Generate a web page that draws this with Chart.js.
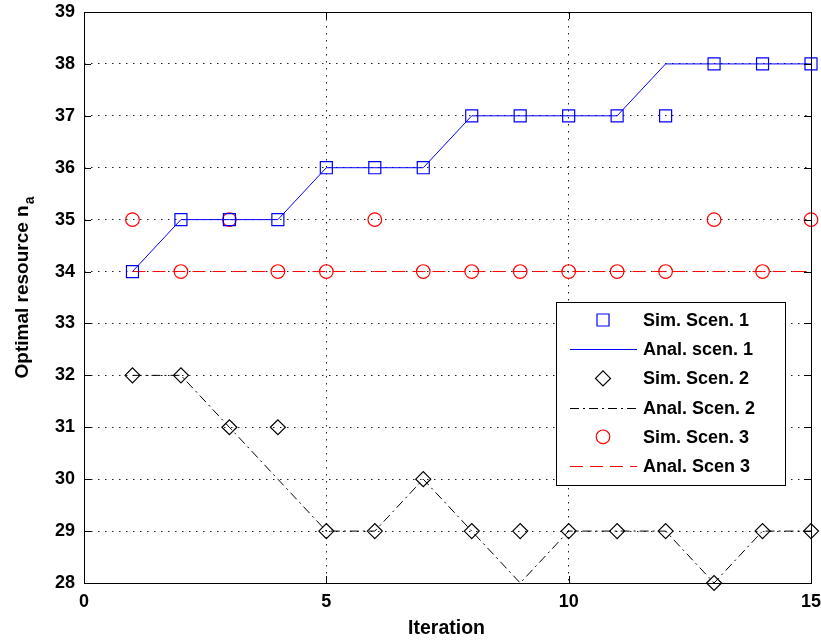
<!DOCTYPE html>
<html>
<head>
<meta charset="utf-8">
<script src="https://cdn.jsdelivr.net/npm/chart.js@4.4.1/dist/chart.umd.min.js"></script>
<style>
  html, body { margin: 0; background: #fff; }
  #wrap { width: 821px; height: 641px; }
</style>
</head>
<body>
<div id="wrap"><canvas id="myChart"></canvas></div>
<script>
// * data
const iterations = [1, 2, 3, 4, 5, 6, 7, 8, 9, 10, 11, 12, 13, 14, 15];
const simScen1  = [34, 35, 35, 35, 36, 36, 36, 37, 37, 37, 37, 37, 38, 38, 38];
const analScen1 = [34, 35, 35, 35, 36, 36, 36, 37, 37, 37, 37, 38, 38, 38, 38];
const simScen2  = [32, 32, 31, 31, 29, 29, 30, 29, 29, 29, 29, 29, 28, 29, 29];
const analScen2 = [32, 32, 31, 30, 29, 29, 30, 29, 28, 29, 29, 29, 28, 29, 29];
const simScen3  = [35, 34, 35, 34, 34, 35, 34, 34, 34, 34, 34, 34, 35, 34, 35];
const analScen3 = [34, 34, 34, 34, 34, 34, 34, 34, 34, 34, 34, 34, 34, 34, 34];
const xTicks = [0, 5, 10, 15];
const yTicks = [28, 29, 30, 31, 32, 33, 34, 35, 36, 37, 38, 39];

const FONT = "'Liberation Sans', Arial, sans-serif";
const pts = (ys) => iterations.map((x, i) => ({ x: x, y: ys[i] }));

const marker = (label, ys, color, style, r) => ({
  label: label, data: pts(ys), showLine: false,
  pointStyle: style, pointRadius: r, pointHoverRadius: r,
  pointBorderColor: color, pointBackgroundColor: "rgba(0,0,0,0)",
  pointBorderWidth: 1.2, borderColor: color, clip: false,
});
const line = (label, ys, color, dash) => ({
  label: label, data: pts(ys), borderColor: color, borderWidth: 1,
  borderDash: dash, pointRadius: 0, fill: false, tension: 0, clip: false,
});

const data = {
  datasets: [
    marker("Sim. Scen. 1", simScen1, "#0000ff", "rect", 8.5),
    line("Anal. scen. 1", analScen1, "#0000ff", []),
    marker("Sim. Scen. 2", simScen2, "#000000", "rectRot", 7.5),
    line("Anal. Scen. 2", analScen2, "#000000", [9, 4, 2, 4]),
    marker("Sim. Scen. 3", simScen3, "#ff0000", "circle", 6.8),
    line("Anal. Scen 3", analScen3, "#ff0000", [13, 7]),
  ],
};

// * box, inward ticks, axis titles, legend (matlab look)
const matlabLook = {
  id: "matlabLook",
  afterDraw(chart) {
    const ctx = chart.ctx;
    const a = chart.chartArea;
    const xs = chart.scales.x, ys = chart.scales.y;
    ctx.save();
    ctx.strokeStyle = "#000";
    ctx.lineWidth = 1;
    ctx.setLineDash([]);
    ctx.strokeRect(Math.round(a.left) + 0.5, Math.round(a.top) + 0.5,
      Math.round(a.right - a.left), Math.round(a.bottom - a.top));
    ctx.beginPath();
    const tl = 7;
    xTicks.forEach((v) => {
      const px = Math.round(xs.getPixelForValue(v)) + 0.5;
      ctx.moveTo(px, a.bottom); ctx.lineTo(px, a.bottom - tl);
      ctx.moveTo(px, a.top); ctx.lineTo(px, a.top + tl);
    });
    yTicks.forEach((v) => {
      const py = Math.round(ys.getPixelForValue(v)) + 0.5;
      ctx.moveTo(a.left, py); ctx.lineTo(a.left + tl, py);
      ctx.moveTo(a.right, py); ctx.lineTo(a.right - tl, py);
    });
    ctx.stroke();

    // axis titles
    ctx.fillStyle = "#000";
    ctx.font = "bold 19.5px " + FONT;
    ctx.textAlign = "center";
    ctx.textBaseline = "middle";
    ctx.fillText("Iteration", (a.left + a.right) / 2 - 1, 629);

    ctx.save();
    ctx.translate(23, 288);
    ctx.rotate(-Math.PI / 2);
    const main = "Optimal resource n";
    ctx.font = "bold 19px " + FONT;
    const wMain = ctx.measureText(main).width;
    ctx.font = "bold 14px " + FONT;
    const wSub = ctx.measureText("a").width;
    const start = -(wMain + wSub) / 2;
    ctx.textAlign = "left";
    ctx.font = "bold 19px " + FONT;
    ctx.fillText(main, start, 0);
    ctx.font = "bold 14px " + FONT;
    ctx.fillText("a", start + wMain + 1, 7);
    ctx.restore();

    // legend
    const l = 556, t = 302, w = 229, h = 183;
    ctx.fillStyle = "#fff";
    ctx.fillRect(l, t, w, h);
    ctx.strokeStyle = "#000";
    ctx.strokeRect(l + 0.5, t + 0.5, w, h);
    chart.data.datasets.forEach((ds, i) => {
      const y = t + 18 + i * 29.2;
      ctx.save();
      if (ds.showLine === false) {
        ctx.strokeStyle = ds.pointBorderColor;
        ctx.fillStyle = "rgba(0,0,0,0)";
        ctx.lineWidth = ds.pointBorderWidth;
        Chart.helpers.drawPoint(ctx, {
          pointStyle: ds.pointStyle, radius: ds.pointRadius,
          borderWidth: ds.pointBorderWidth, rotation: 0,
        }, 603, y);
      } else {
        ctx.strokeStyle = ds.borderColor;
        ctx.lineWidth = 1;
        ctx.setLineDash(ds.borderDash);
        ctx.beginPath();
        ctx.moveTo(570, Math.round(y) + 0.5);
        ctx.lineTo(637, Math.round(y) + 0.5);
        ctx.stroke();
      }
      ctx.restore();
      ctx.fillStyle = "#000";
      ctx.font = "bold 18px " + FONT;
      ctx.textAlign = "left";
      ctx.textBaseline = "middle";
      ctx.fillText(ds.label, 643, y + 1);
    });
    ctx.restore();
  },
};

// keep tick labels from shrinking the plot area
const noPad = (s) => {
  s.paddingLeft = 0; s.paddingRight = 0; s.paddingTop = 0; s.paddingBottom = 0;
};

const config = {
  type: "line",
  data: data,
  options: {
    responsive: true,
    maintainAspectRatio: false,
    animation: false,
    events: [],
    layout: { padding: { top: 12, right: 10, left: 0, bottom: 0 } },
    plugins: { legend: { display: false }, tooltip: { enabled: false } },
    scales: {
      x: {
        type: "linear", min: 0, max: 15,
        afterBuildTicks: (s) => { s.ticks = xTicks.map((v) => ({ value: v })); },
        afterFit: (s) => { s.height = 58; noPad(s); },
        ticks: { color: "#000", padding: 8, maxRotation: 0,
          font: { family: FONT, size: 18, weight: "bold" } },
        grid: { color: "#222", lineWidth: 1, drawTicks: false },
        border: { display: false, dash: [1.5, 5.5] },
      },
      y: {
        type: "linear", min: 28, max: 39,
        afterBuildTicks: (s) => { s.ticks = yTicks.map((v) => ({ value: v })); },
        afterFit: (s) => { s.width = 84; noPad(s); },
        ticks: { color: "#000", padding: 9,
          font: { family: FONT, size: 18, weight: "bold" } },
        grid: { color: "#222", lineWidth: 1, drawTicks: false },
        border: { display: false, dash: [1.5, 5.5] },
      },
    },
  },
  plugins: [matlabLook],
};

const chart = new Chart("myChart", config);
</script>
</body>
</html>
